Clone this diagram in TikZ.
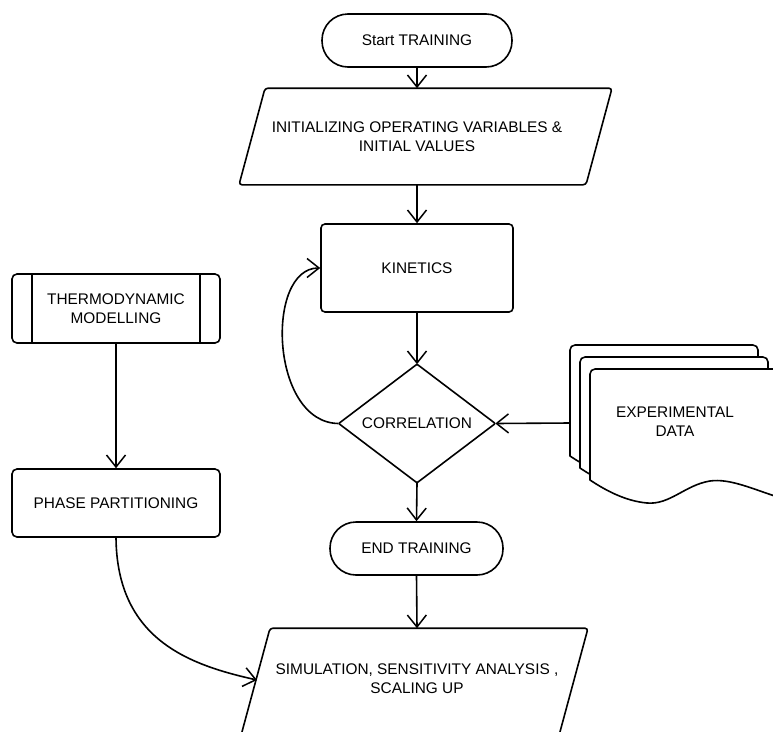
\documentclass[tikz,border=0pt]{standalone}
\usepackage{fontspec}
\setmainfont{Liberation Sans}
\usetikzlibrary{arrows.meta,calc}
\begin{document}
\begin{tikzpicture}[x=1pt,y=-1pt,
  line width=1.6pt,
  arr/.style={-{Straight Barb[length=12pt,width=19pt,line width=1.5pt]}},
  lbl/.style={font=\fontsize{15.4}{19}\selectfont, align=center, text=black, inner sep=0pt},
  stadium/.style={lbl, draw, rounded corners=26pt, minimum height=53pt},
  procbox/.style={lbl, draw, rounded corners=5pt},
  ghost/.style={lbl, draw=none},
  outline/.style={draw, rounded corners=3pt, line join=round},
  sheet/.style={draw, fill=white, line join=round}
]
\useasboundingbox (0,0) rectangle (773,731);

% nodes
\node[stadium, minimum width=190pt] (start) at (417,40.5) {Start TRAINING};
\node[ghost, minimum width=300pt, minimum height=95pt] (init) at (417,136.5)
  {INITIALIZING OPERATING VARIABLES \&\\INITIAL VALUES};
\draw[outline] ([xshift=-152pt]init.north) -- ([xshift=195pt]init.north)
  -- ([xshift=169pt]init.south) -- ([xshift=-178pt]init.south) -- cycle;

\node[procbox, rounded corners=4pt, minimum width=192pt, minimum height=88pt] (kin) at (417,268) {KINETICS};

\node[ghost, minimum width=155pt, minimum height=117pt] (corr) at (417,423.5) {CORRELATION};
\draw[outline, rounded corners=1pt] (corr.north) -- (corr.east) -- (corr.south) -- (corr.west) -- cycle;

\node[stadium, minimum width=173pt] (end) at (416.5,548.5) {END TRAINING};

\node[ghost, minimum width=300pt, minimum height=100pt] (sim) at (417,679)
  {SIMULATION, SENSITIVITY ANALYSIS ,\\SCALING UP};
\draw[outline] ([xshift=-147pt]sim.north) -- ([xshift=171pt]sim.north)
  -- ($(sim.north)+(141,111)$) -- ($(sim.north)+(-177,111)$) -- cycle;

\node[procbox, minimum width=208pt, minimum height=69pt] (thermo) at (116,308.5) {THERMODYNAMIC\\MODELLING};
\draw ([xshift=21pt]thermo.north west) -- ([xshift=21pt]thermo.south west);
\draw ([xshift=-21pt]thermo.north east) -- ([xshift=-21pt]thermo.south east);

\node[procbox, minimum width=208pt, minimum height=68pt] (phase) at (116,503) {PHASE PARTITIONING};

% experimental data (multiple documents)
\foreach \dx/\dy in {-20/-24,-10/-12,0/0}{
  \begin{scope}[shift={(\dx,\dy)}]
    \path[sheet] (590,480) [rounded corners=5pt] -- (590,369) -- (778,369) [sharp corners] -- (778,497)
      .. controls (755,490) and (730,478) .. (710,481)
      .. controls (685,485) and (670,505) .. (647,503)
      .. controls (625,501) and (605,490) .. (590,480) -- cycle;
  \end{scope}
}
\node[ghost] (exp) at (675,422) {EXPERIMENTAL\\DATA};
\coordinate (expin) at (570,423);

% connectors
\draw[arr] (start.south) -- (init.north);
\draw[arr] (init.south) -- (kin.north);
\draw[arr] (kin.south) -- (corr.north);
\draw[arr] (corr.south) -- (end.north);
\draw[arr] (end.south) -- (sim.north);
\draw[arr] (expin) -- (corr.east);
\draw[arr] (corr.west) .. controls (270,423) and (265,268) .. (kin.west);
\draw[arr] (thermo.south) -- (phase.north);
\draw[arr] (phase.south) .. controls (117,640) and (190,665) .. (257,680);
\end{tikzpicture}
\end{document}
